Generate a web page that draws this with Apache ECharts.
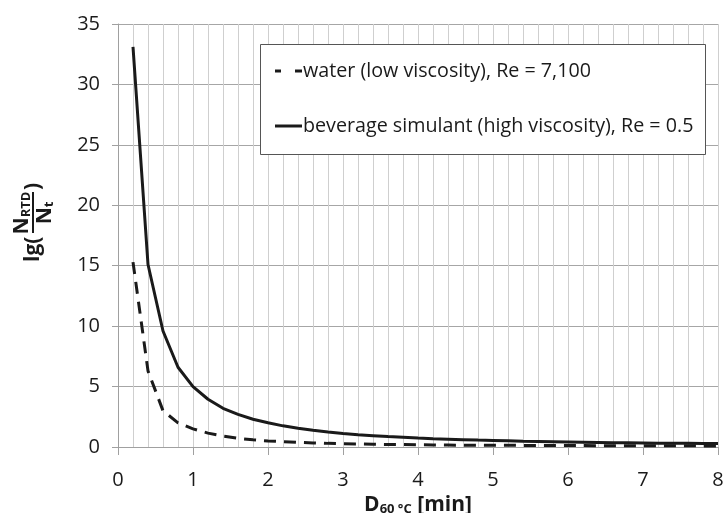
<!DOCTYPE html>
<html>
<head>
<meta charset="utf-8">
<script src="https://cdn.jsdelivr.net/npm/echarts@6/dist/echarts.min.js"></script>
<style>
  html, body { margin: 0; padding: 0; background: #fff; }
  #chart { width: 725px; height: 513px; }
</style>
</head>
<body>
<div id="chart"></div>
<script>
// D60°C in minutes, one point every 0.2
var xValues = [0.2, 0.4, 0.6, 0.8, 1.0, 1.2, 1.4, 1.6, 1.8, 2.0,
    2.2, 2.4, 2.6, 2.8, 3.0, 3.2, 3.4, 3.6, 3.8, 4.0,
    4.2, 4.4, 4.6, 4.8, 5.0, 5.2, 5.4, 5.6, 5.8, 6.0,
    6.2, 6.4, 6.6, 6.8, 7.0, 7.2, 7.4, 7.6, 7.8, 8.0];
var waterValues = [15.3, 6.3, 3.0, 2.0, 1.5, 1.15, 0.9, 0.72, 0.6, 0.5,
    0.44, 0.38, 0.34, 0.3, 0.27, 0.25, 0.23, 0.21, 0.2, 0.18,
    0.17, 0.16, 0.15, 0.15, 0.14, 0.14, 0.13, 0.13, 0.12, 0.12,
    0.12, 0.11, 0.11, 0.11, 0.1, 0.1, 0.1, 0.1, 0.09, 0.09];
var beverageValues = [33.1, 15.1, 9.6, 6.6, 5.0, 3.95, 3.2, 2.7, 2.3, 2.0,
    1.75, 1.55, 1.38, 1.24, 1.12, 1.02, 0.94, 0.86, 0.8, 0.74,
    0.69, 0.65, 0.61, 0.57, 0.54, 0.51, 0.48, 0.46, 0.44, 0.42,
    0.4, 0.38, 0.36, 0.35, 0.34, 0.32, 0.31, 0.3, 0.29, 0.28];
var seriesNames = ['water (low viscosity), Re = 7,100', 'beverage simulant (high viscosity), Re = 0.5'];

var font = 'Open Sans';
var ink = '#1a1a1a';

function pairs(ys) {
    return xValues.map(function (x, i) { return [x, ys[i]]; });
}

var myChart = echarts.init(document.getElementById('chart'));
var option = {
    animation: false,
    backgroundColor: '#fff',
    grid: { left: 118, right: 7, top: 24, bottom: 66, outerBoundsMode: 'none', containLabel: false },
    xAxis: {
        type: 'value',
        min: 0, max: 8, interval: 1,
        name: '{b|D}{s|60 °C}{b| [min]}',
        nameLocation: 'middle',
        nameGap: 37,
        nameTextStyle: {
            rich: {
                b: { fontFamily: font, fontWeight: 'bold', fontSize: 21, color: ink, lineHeight: 24, verticalAlign: 'bottom' },
                s: { fontFamily: font, fontWeight: 'bold', fontSize: 13, color: ink, lineHeight: 10, verticalAlign: 'bottom' }
            }
        },
        axisLine: { lineStyle: { color: '#a0a0a0', width: 1 } },
        axisTick: { show: true, length: 8, lineStyle: { color: '#a0a0a0' } },
        axisLabel: { fontFamily: font, fontSize: 20, color: ink, margin: 23 },
        splitLine: { show: true, lineStyle: { color: '#cfcfcf', width: 1 } },
        minorTick: { show: false, splitNumber: 5 },
        minorSplitLine: { show: true, lineStyle: { color: '#cfcfcf', width: 1 } }
    },
    yAxis: {
        type: 'value',
        min: 0, max: 35, interval: 5,
        axisLine: { show: true, lineStyle: { color: '#a0a0a0', width: 1 } },
        axisTick: { show: true, length: 6, lineStyle: { color: '#a0a0a0' } },
        axisLabel: { fontFamily: font, fontSize: 20, color: ink, margin: 18 },
        splitLine: { show: true, lineStyle: { color: '#a6a6a6', width: 1 } }
    },
    legend: {
        orient: 'vertical',
        left: 275, top: 61,
        itemWidth: 27, itemHeight: 3, itemGap: 35,
        padding: 0,
        itemStyle: { color: ink, borderWidth: 0 },
        textStyle: { fontFamily: font, fontSize: 19.7, color: ink, lineHeight: 20, padding: [0, 0, 0, -4] },
        data: [
            { name: seriesNames[0], icon: 'path://M0,0h6v3h-6zM20,0h7v3h-7z' },
            { name: seriesNames[1], icon: 'rect' }
        ]
    },
    graphic: [
        {
            type: 'rect', z: 3,
            shape: { x: 260.5, y: 44.5, width: 445, height: 110 },
            style: { fill: '#fff', stroke: '#555', lineWidth: 1 }
        },
        {
            type: 'group',
            x: 33, y: 220,
            rotation: Math.PI / 2,
            children: [
                { type: 'text', x: -42, y: 0, style: { text: 'lg(', font: 'bold 21px "Open Sans"', fill: ink, align: 'left', verticalAlign: 'middle' } },
                { type: 'line', shape: { x1: -13, y1: 0, x2: 28, y2: 0 }, style: { stroke: ink, lineWidth: 2 } },
                {
                    type: 'text', x: 7, y: -11,
                    style: {
                        text: '{n|N}{s|RTD}', align: 'center', verticalAlign: 'middle',
                        rich: {
                            n: { fontFamily: font, fontWeight: 'bold', fontSize: 21, fill: ink, lineHeight: 22, verticalAlign: 'bottom' },
                            s: { fontFamily: font, fontWeight: 'bold', fontSize: 13, fill: ink, lineHeight: 10, verticalAlign: 'bottom' }
                        }
                    }
                },
                {
                    type: 'text', x: 7, y: 12,
                    style: {
                        text: '{n|N}{s|t}', align: 'center', verticalAlign: 'middle',
                        rich: {
                            n: { fontFamily: font, fontWeight: 'bold', fontSize: 21, fill: ink, lineHeight: 22, verticalAlign: 'bottom' },
                            s: { fontFamily: font, fontWeight: 'bold', fontSize: 13, fill: ink, lineHeight: 10, verticalAlign: 'bottom' }
                        }
                    }
                },
                { type: 'text', x: 30, y: 0, style: { text: ')', font: 'bold 21px "Open Sans"', fill: ink, align: 'left', verticalAlign: 'middle' } }
            ]
        }
    ],
    series: [
        {
            name: seriesNames[0],
            type: 'line',
            symbol: 'none',
            data: pairs(waterValues),
            lineStyle: { color: ink, width: 3, type: [12, 8] },
            itemStyle: { color: ink },
            z: 2
        },
        {
            name: seriesNames[1],
            type: 'line',
            symbol: 'none',
            data: pairs(beverageValues),
            lineStyle: { color: ink, width: 3, type: 'solid' },
            itemStyle: { color: ink },
            z: 2
        }
    ]
};
myChart.setOption(option);
</script>
</body>
</html>
